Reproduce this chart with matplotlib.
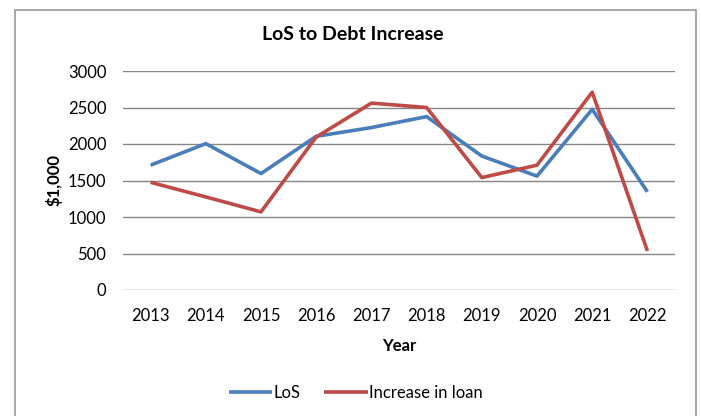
import matplotlib
matplotlib.use('Agg')
import matplotlib.pyplot as plt
from matplotlib.patches import Rectangle

years = ['2013', '2014', '2015', '2016', '2017', '2018', '2019', '2020', '2021', '2022']
los = [1710, 2005, 1595, 2105, 2225, 2375, 1835, 1560, 2475, 1345]
loan_increase = [1475, 1275, 1070, 2095, 2560, 2500, 1540, 1710, 2710, 535]
yticks = [0, 500, 1000, 1500, 2000, 2500, 3000]

plt.rcParams['font.family'] = ['Lato', 'DejaVu Sans']

fig = plt.figure(figsize=(7.01, 4.16), dpi=100)
ax = fig.add_axes([123 / 701, 1 - 290 / 416, 552 / 701, 219 / 416])

x = range(len(years))
ax.plot(x, los, color='#4A7EBB', lw=2.6, label='LoS', solid_capstyle='butt')
ax.plot(x, loan_increase, color='#BE4B48', lw=2.6, label='Increase in loan', solid_capstyle='butt')

ax.set_xlim(-0.5, len(years) - 0.5)
ax.set_ylim(0, 3000)
ax.set_yticks(yticks)
ax.set_yticklabels([str(v) for v in yticks])
ax.set_xticks(list(x))
ax.set_xticklabels(years)
ax.tick_params(axis='both', length=0, labelsize=12)
ax.tick_params(axis='y', pad=12)
ax.tick_params(axis='x', pad=13)
ax.grid(axis='y', color='#868686', lw=1)
ax.set_axisbelow(True)
for s in ax.spines.values():
    s.set_visible(False)

fig.text(353 / 701, 1 - 35 / 416, 'LoS to Debt Increase', fontsize=14,
         fontweight='bold', ha='center', va='center')
ax.set_xlabel('Year', fontsize=12, fontweight='bold', labelpad=10)
ax.set_ylabel('$1,000', fontsize=12, fontweight='bold', labelpad=4)

fig.legend(loc='center', bbox_to_anchor=(356 / 701, 1 - 393 / 416), ncol=2,
           frameon=False, fontsize=12, handlelength=2.6, handletextpad=0.1,
           columnspacing=1.4)

fig.patches.append(Rectangle((15 / 701, -0.05), 681 / 701, 1.05 - 10 / 416,
                             transform=fig.transFigure, fill=False,
                             edgecolor='#9a9a9a', lw=1.2, clip_on=False))

fig.savefig('out.png', dpi=100)
